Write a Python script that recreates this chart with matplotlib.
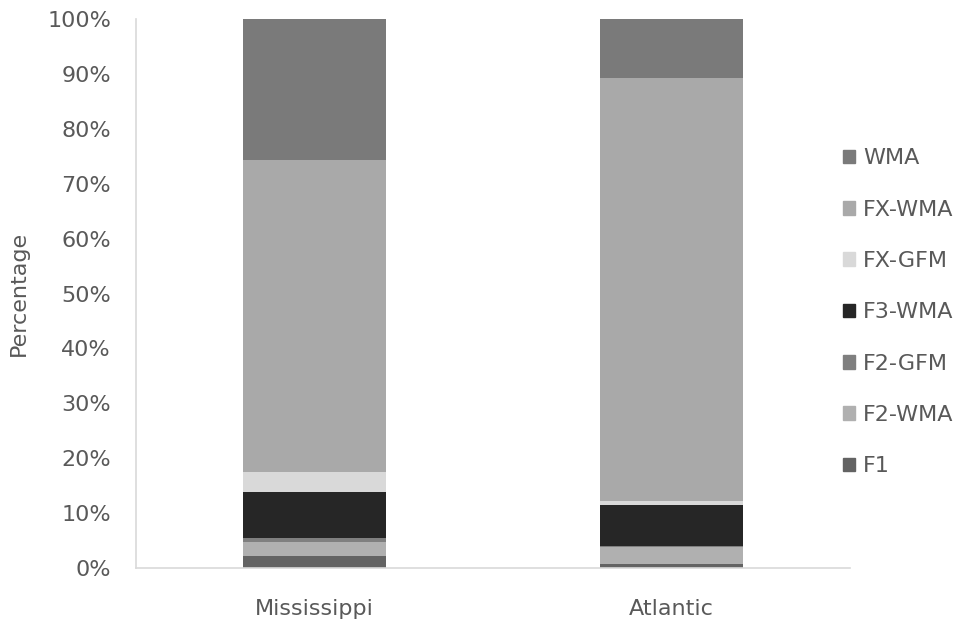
import matplotlib
matplotlib.use("Agg")
import numpy as np
from matplotlib import pyplot as plt
from matplotlib.patches import Patch

plt.rcParams['font.family'] = ['DejaVu Sans']

regions = ['Mississippi', 'Atlantic']
series = ['F1', 'F2-WMA', 'F2-GFM', 'F3-WMA', 'FX-GFM', 'FX-WMA', 'WMA']
# percentages, bottom to top
f1 = [2.2, 0.7]
f2_wma = [2.6, 3.2]
f2_gfm = [0.6, 0.1]
f3_wma = [8.5, 7.5]
fx_gfm = [3.5, 0.7]
fx_wma = [56.9, 77.1]
wma = [25.7, 10.7]
colors = ['#636363', '#b0b0b0', '#7f7f7f', '#262626', '#d9d9d9', '#a9a9a9', '#7a7a7a']

values = [f1, f2_wma, f2_gfm, f3_wma, fx_gfm, fx_wma, wma]

fig = plt.figure(figsize=(9.69, 6.21), dpi=100)
ax = fig.add_axes([136/969, 53/621, 714/969, 549/621])

x = np.arange(len(regions))
bottom = np.zeros(len(regions))
for name, vals, c in zip(series, values, colors):
    v = np.array(vals) / 100
    ax.bar(x, v, 0.4, bottom=bottom, color=c, label=name, edgecolor='none')
    bottom += v

ax.set_xlim(-0.5, 1.5)
ax.set_ylim(0, 1)
ax.set_yticks(np.arange(0, 1.01, 0.1))
ax.set_yticklabels([f'{int(round(t*100))}%' for t in np.arange(0, 1.01, 0.1)])
ax.set_xticks(x)
ax.set_xticklabels(regions)
ax.tick_params(length=0, labelsize=16, colors='#595959')
ax.tick_params(axis='y', pad=18)
ax.tick_params(axis='x', pad=22)
for s in ['top', 'right']:
    ax.spines[s].set_visible(False)
for s in ['left', 'bottom']:
    ax.spines[s].set_color('#d9d9d9')
    ax.spines[s].set_linewidth(1.2)
ax.set_ylabel('Percentage', fontsize=16, color='#595959', labelpad=13)

handles = [Patch(color=c, label=n) for n, c in zip(series, colors)][::-1]
fig.legend(handles=handles, loc='center left', bbox_to_anchor=(843/969, 0.497),
           frameon=False, fontsize=16, labelcolor='#595959',
           handlelength=0.55, handleheight=0.55, handletextpad=0.35,
           labelspacing=1.41, borderpad=0, borderaxespad=0)

fig.savefig('out.png', dpi=100)
